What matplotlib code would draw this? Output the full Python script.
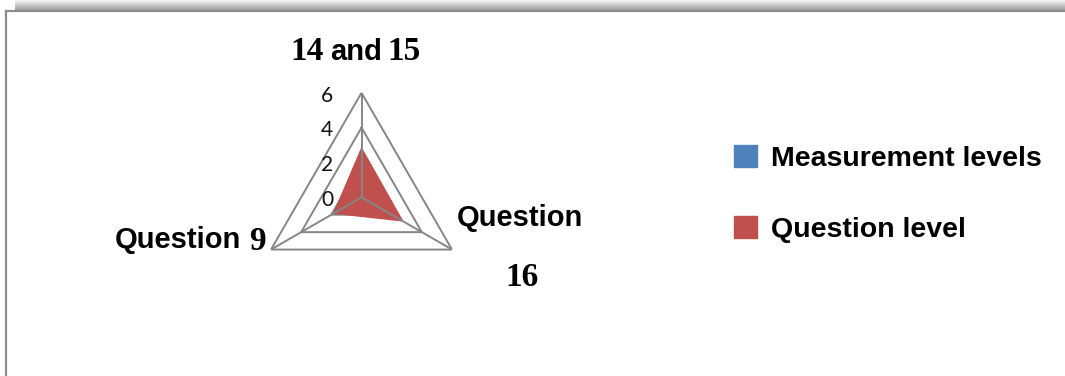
import numpy as np
import matplotlib
matplotlib.use("Agg")
import matplotlib.pyplot as plt
from matplotlib.lines import Line2D

# ---- data ----
categories = ["14 and 15", "Question 16", "Question 9"]
measurement_levels = [0, 0, 0]
question_level = [2.9, 2.8, 1.9]
r_ticks = [0, 2, 4, 6]
r_max = 6
series_names = ["Measurement levels", "Question level"]
series_colors = ["#4F81BD", "#C0504D"]

W, H = 1065, 376
fig = plt.figure(figsize=(W / 100, H / 100), dpi=100)
fig.patch.set_facecolor("white")

def fx(px):
    return px / W

def fy(py):
    return 1 - py / H

# chart frame (left and top border) and shadow
shadow_ax = fig.add_axes([fx(15), fy(10.5), 1 - fx(15), 10.5 / H])
grad = np.linspace(1.0, 0.62, 30).reshape(-1, 1)
shadow_ax.imshow(grad, aspect="auto", cmap="gray", vmin=0, vmax=1,
                 extent=[0, 1, 0, 1], interpolation="bilinear")
shadow_ax.set_axis_off()
fig.add_artist(Line2D([fx(6), 1], [fy(11), fy(11)], color="#8c8c8c", lw=1.6,
                      transform=fig.transFigure))
fig.add_artist(Line2D([fx(6), fx(6)], [fy(11), 0], color="#8c8c8c", lw=1.6,
                      transform=fig.transFigure))

# ---- radar axes ----
cx, cy, R = 361.5, 197.3, 104.5
ax = fig.add_axes([fx(cx - R), fy(cy + R), 2 * R / W, 2 * R / H], projection="polar")
ax.set_theta_zero_location("N")
ax.set_theta_direction(-1)
ax.set_ylim(0, r_max)
ax.grid(False)
ax.spines["polar"].set_visible(False)
ax.set_xticks([])
ax.set_yticks([])
ax.patch.set_alpha(0)

n = len(categories)
theta = np.arange(n) * 2 * np.pi / n
theta_closed = np.concatenate([theta, theta[:1]])
grid_col = "#868686"

for r in r_ticks[1:]:
    ax.plot(theta_closed, [r] * (n + 1), color=grid_col, lw=1.4, zorder=1)

for vals, col in zip([measurement_levels, question_level], series_colors):
    v = np.concatenate([vals, vals[:1]])
    ax.fill(theta_closed, v, color=col, lw=0, zorder=2)

for t in theta:
    ax.plot([t, t], [0, r_max], color=grid_col, lw=1.4, zorder=3)

for r in r_ticks:
    ax.annotate(str(r), xy=(0, r), xytext=(-20.5, -2), textcoords="offset points",
                ha="right", va="center", fontsize=15, family="Lato", color="#111111")

# ---- category labels (mixed fonts) ----
sans = dict(family="Liberation Sans", weight="bold", fontsize=21, color="black")
serif = dict(family="Liberation Serif", weight="bold", fontsize=24, color="black")
pieces = [
    ("14", 290.5, 59.5, serif),
    ("and", 330, 59.5, sans),
    ("15", 387, 59.5, serif),
    ("Question", 115, 247.5, sans),
    ("9", 249, 250, serif),
    ("Question", 456.5, 226.5, sans),
    ("16", 505.5, 286.5, serif),
]
for txt, px, py, st in pieces:
    fig.text(fx(px), fy(py), txt, ha="left", va="baseline", **st)

# ---- legend ----
handles = [plt.Rectangle((0, 0), 1, 1, color=c) for c in series_colors]
fig.legend(handles, series_names, loc="upper left",
           bbox_to_anchor=(fx(734), fy(145)), frameon=False,
           prop=dict(family="Liberation Sans", weight="bold", size=20.5),
           handlelength=0.8, handleheight=0.8, handletextpad=0.5,
           labelspacing=1.55, borderpad=0, borderaxespad=0)

fig.savefig("out.png", dpi=100, facecolor="white")
